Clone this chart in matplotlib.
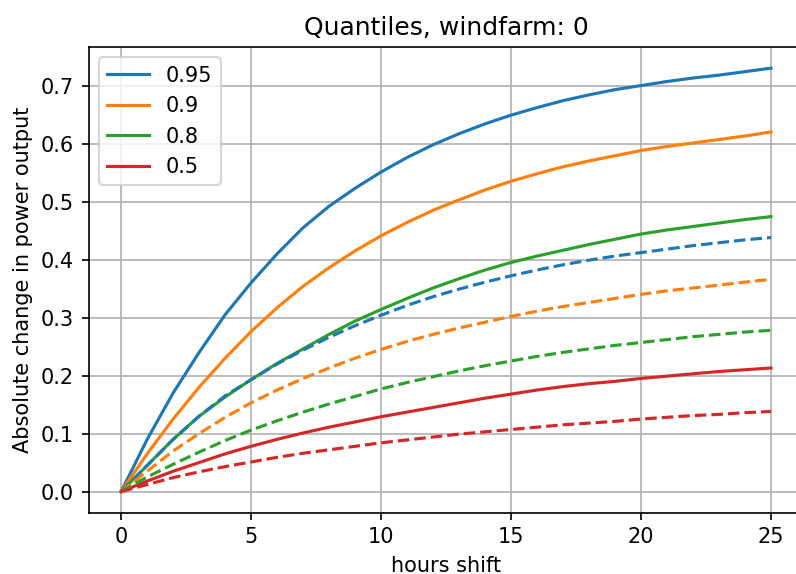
import numpy as np
import matplotlib
matplotlib.use('Agg')
import matplotlib.pyplot as plt

hours = list(range(26))
quantiles = ['0.95', '0.9', '0.8', '0.5']

# solid lines
q95 = [0, 0.09, 0.17, 0.24, 0.305, 0.36, 0.41, 0.455, 0.492, 0.523, 0.551, 0.576, 0.598, 0.617,
       0.634, 0.649, 0.662, 0.674, 0.684, 0.693, 0.700, 0.707, 0.713, 0.718, 0.724, 0.730]
q90 = [0, 0.065, 0.125, 0.18, 0.23, 0.276, 0.317, 0.354, 0.386, 0.415, 0.441, 0.464, 0.485, 0.503,
       0.520, 0.535, 0.548, 0.560, 0.570, 0.579, 0.588, 0.595, 0.601, 0.607, 0.613, 0.620]
q80 = [0, 0.045, 0.09, 0.13, 0.163, 0.193, 0.221, 0.246, 0.271, 0.294, 0.314, 0.333, 0.351, 0.367,
       0.382, 0.395, 0.406, 0.416, 0.426, 0.435, 0.444, 0.451, 0.457, 0.463, 0.469, 0.474]
q50 = [0, 0.018, 0.035, 0.05, 0.065, 0.078, 0.09, 0.101, 0.111, 0.12, 0.129, 0.137, 0.145, 0.153,
       0.161, 0.168, 0.175, 0.181, 0.186, 0.190, 0.195, 0.199, 0.203, 0.207, 0.210, 0.213]

# dashed lines
d95 = [0, 0.045, 0.09, 0.13, 0.165, 0.193, 0.22, 0.244, 0.266, 0.286, 0.304, 0.321, 0.336, 0.349,
       0.361, 0.372, 0.382, 0.391, 0.399, 0.406, 0.412, 0.418, 0.424, 0.429, 0.434, 0.438]
d90 = [0, 0.035, 0.07, 0.1, 0.128, 0.153, 0.175, 0.195, 0.213, 0.23, 0.245, 0.259, 0.271, 0.282,
       0.292, 0.302, 0.311, 0.319, 0.326, 0.333, 0.340, 0.346, 0.351, 0.356, 0.361, 0.366]
d80 = [0, 0.025, 0.047, 0.068, 0.088, 0.106, 0.122, 0.137, 0.151, 0.164, 0.177, 0.188, 0.198, 0.208,
       0.217, 0.225, 0.233, 0.240, 0.246, 0.252, 0.257, 0.262, 0.267, 0.271, 0.275, 0.278]
d50 = [0, 0.012, 0.024, 0.034, 0.043, 0.051, 0.059, 0.066, 0.072, 0.078, 0.084, 0.089, 0.094, 0.099,
       0.103, 0.107, 0.111, 0.115, 0.118, 0.121, 0.125, 0.128, 0.131, 0.133, 0.136, 0.138]

solid = [q95, q90, q80, q50]
dashed = [d95, d90, d80, d50]
colors = ['C0', 'C1', 'C2', 'C3']

dpi = 150
fig = plt.figure(figsize=(796 / dpi, 574 / dpi), dpi=dpi)
ax = fig.add_axes([88.7 / 796, 1 - 512.7 / 574, (803.5 - 88.7) / 796, (512.7 - 47) / 574])

for q, s, c in zip(quantiles, solid, colors):
    ax.plot(hours, s, color=c, label=q)
for d, c in zip(dashed, colors):
    ax.plot(hours, d, color=c, linestyle='--')

ax.set_title('Quantiles, windfarm: 0')
ax.set_xlabel('hours shift')
ax.set_ylabel('Absolute change in power output')
ax.set_yticks(np.arange(0, 0.71, 0.1))
ax.grid(True)
ax.legend(loc='upper left')

fig.savefig('out.png', dpi=dpi)
